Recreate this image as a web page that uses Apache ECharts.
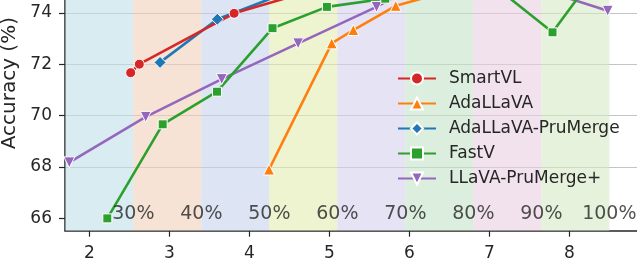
<!DOCTYPE html>
<html>
<head>
<meta charset="utf-8">
<script src="https://cdn.jsdelivr.net/npm/echarts@6.0.0/dist/echarts.min.js"></script>
<style>
  html, body { margin: 0; padding: 0; background: #fff; }
  #main { width: 637px; height: 263px; }
</style>
</head>
<body>
<div id="main"></div>
<script>
// series values, [x, accuracy]
var smartvl = [[2.517, 71.67], [2.625, 72.0], [3.81, 73.98], [4.6, 74.7]];
var adallava = [[4.246, 67.9], [5.03, 72.81], [5.3, 73.33], [5.83, 74.27], [6.5, 74.85]];
var adallavaPm = [[2.884, 72.07], [3.6, 73.75], [4.6, 74.95]];
var fastv = [[2.225, 66.0], [2.917, 69.66], [3.596, 70.93], [4.29, 73.4], [4.97, 74.23],
             [5.7, 74.55], [7.0, 75.2], [7.79, 73.24], [8.3, 75.4]];
var prumergePlus = [[1.75, 68.18], [2.705, 69.95], [3.655, 71.42], [4.61, 72.81], [5.59, 74.23],
                    [6.2, 75.3], [7.5, 75.05], [8.48, 74.08]];

// shaded ratio bands and their labels
var bandEdges = [1.7, 2.55, 3.4, 4.25, 5.1, 5.95, 6.8, 7.65, 8.5];
var bandLabels = ['30%', '40%', '50%', '60%', '70%', '80%', '90%', '100%'];
var bandColors = ['#bedfe9', '#f2d0bb', '#c6d4ee', '#e3ebb1', '#d5d0ee', '#c5e4ca', '#e9cfe3', '#d5e9c5'];

var xTicks = [2, 3, 4, 5, 6, 7, 8];
var yTicks = [66, 68, 70, 72, 74, 76];

var FONT = 'DejaVu Sans';
var INK = '#262626';

var chart = echarts.init(document.getElementById('main'), null, {renderer: 'canvas'});

var areas = [];
for (var i = 0; i < bandColors.length; i++) {
  areas.push([{xAxis: bandEdges[i], itemStyle: {color: bandColors[i], opacity: 0.6}}, {xAxis: bandEdges[i + 1]}]);
}
var labelPts = bandLabels.map(function (t, i) {
  return {name: t, value: [bandEdges[i + 1], 66.18]};
});

function lineSeries(name, data, color, symbol, size, rotate) {
  return {
    name: name,
    type: 'line',
    data: data,
    z: 3,
    color: color,
    symbol: symbol,
    symbolSize: size,
    symbolRotate: rotate || 0,
    showAllSymbol: true,
    lineStyle: {width: 2.6, color: color},
    itemStyle: {color: color, borderColor: '#fff', borderWidth: 1},
    emphasis: {disabled: true},
    animation: false
  };
}

chart.setOption({
  animation: false,
  grid: {left: 65, right: 0, top: -64.3, bottom: 32.3, outerBoundsMode: 'none', containLabel: false},
  xAxis: {
    type: 'value',
    min: 1.696,
    max: 8.846,
    axisLine: {lineStyle: {color: INK, width: 1.5}},
    axisTick: {show: true, length: 6, lineStyle: {color: INK, width: 1.2}, customValues: xTicks},
    axisLabel: {color: INK, fontSize: 17, fontFamily: FONT, margin: 14, customValues: xTicks},
    splitLine: {show: false}
  },
  yAxis: {
    type: 'value',
    min: 65.52,
    max: 77,
    name: 'Accuracy (%)',
    nameLocation: 'middle',
    nameGap: 40,
    nameTextStyle: {color: INK, fontSize: 20, fontFamily: FONT},
    axisLine: {show: true, lineStyle: {color: INK, width: 1.5}},
    axisTick: {show: true, length: 6, lineStyle: {color: INK, width: 1.2}, customValues: yTicks},
    axisLabel: {color: INK, fontSize: 17, fontFamily: FONT, margin: 13, customValues: yTicks},
    splitLine: {show: true, showMinLine: false, showMaxLine: false, lineStyle: {color: '#c4c4c4', width: 1}}
  },
  legend: {
    orient: 'vertical',
    left: 392,
    top: 65,
    itemWidth: 38,
    itemHeight: 15,
    itemGap: 8,
    textStyle: {color: INK, fontSize: 17, fontFamily: FONT, padding: [0, 0, 0, 8]},
    data: ['SmartVL', 'AdaLLaVA', 'AdaLLaVA-PruMerge', 'FastV', 'LLaVA-PruMerge+']
  },
  series: [
    {
      name: 'bands',
      type: 'line',
      z: 0,
      data: [],
      markArea: {silent: true, data: areas},
      silent: true,
      animation: false
    },
    {
      name: 'ratios',
      type: 'scatter',
      z: 5,
      symbolSize: 0.1,
      itemStyle: {color: 'rgba(0,0,0,0)'},
      data: labelPts,
      label: {
        show: true,
        position: 'inside',
        formatter: '{b}',
        color: '#262626',
        fontSize: 19,
        fontFamily: FONT
      },
      silent: true,
      animation: false
    },
    lineSeries('LLaVA-PruMerge+', prumergePlus, '#9467bd', 'triangle', 11, 180),
    lineSeries('FastV', fastv, '#2ca02c', 'rect', 9),
    lineSeries('AdaLLaVA', adallava, '#ff7f0e', 'triangle', 11),
    lineSeries('AdaLLaVA-PruMerge', adallavaPm, '#1f77b4', 'diamond', 12),
    lineSeries('SmartVL', smartvl, '#d62728', 'circle', 10)
  ]
});
</script>
</body>
</html>
